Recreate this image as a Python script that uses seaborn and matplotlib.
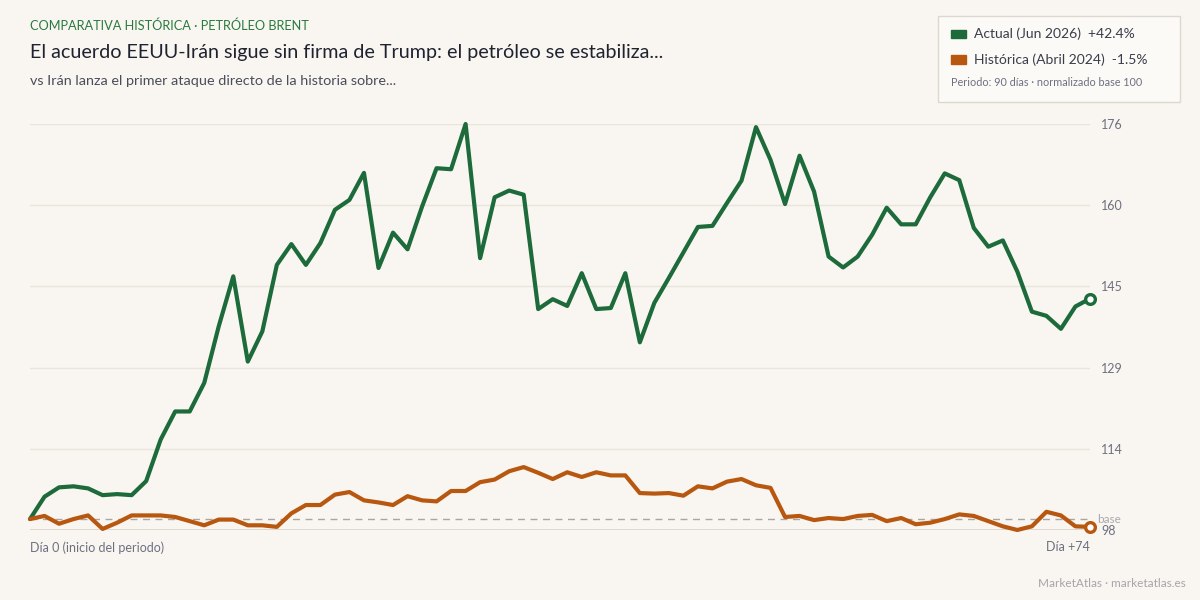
import numpy as np
import pandas as pd
import seaborn as sns
import matplotlib.pyplot as plt

# normalised price paths, base 100 (day 0 .. day 73)
actual = [100.0, 104.3, 106.1, 106.3, 105.9, 104.6, 104.8, 104.6, 107.3, 115.3,
          120.7, 120.7, 126.2, 137.1, 146.7, 130.3, 136.1, 148.9, 152.9, 148.9,
          153.1, 159.5, 161.4, 166.6, 148.3, 155.1, 151.9, 160.1, 167.5, 167.3,
          176.0, 150.2, 161.9, 163.2, 162.4, 140.4, 142.3, 141.0, 147.3, 140.4,
          140.6, 147.3, 134.0, 141.6, 146.4, 151.3, 156.2, 156.4, 160.8, 165.1,
          175.4, 169.1, 160.6, 169.9, 163.0, 150.5, 148.4, 150.5, 154.7, 159.9,
          156.7, 156.7, 161.9, 166.5, 165.2, 156.0, 152.4, 153.6, 147.6, 139.9,
          139.1, 136.6, 140.9, 142.4]
historica = [100.0, 100.6, 99.1, 100.0, 100.7, 98.1, 99.3, 100.7, 100.7, 100.7,
             100.4, 99.6, 98.8, 99.9, 99.9, 98.8, 98.8, 98.5, 101.1, 102.7,
             102.7, 104.7, 105.2, 103.6, 103.2, 102.7, 104.4, 103.6, 103.4, 105.4,
             105.4, 107.1, 107.6, 109.2, 110.0, 108.9, 107.7, 109.0, 108.1, 109.0,
             108.4, 108.4, 105.0, 104.9, 105.0, 104.5, 106.3, 105.9, 107.2, 107.7,
             106.5, 106.0, 100.4, 100.6, 99.8, 100.2, 100.0, 100.6, 100.8, 99.6,
             100.2, 99.0, 99.3, 100.0, 100.9, 100.6, 99.6, 98.6, 97.9, 98.6,
             101.4, 100.7, 98.6, 98.5]
series_names = ["Actual (Jun 2026)", "Histórica (Abril 2024)"]
series_changes = ["+42.4%", "-1.5%"]

bg = "#f9f6f1"
green = "#1d6a3b"
orange = "#b8570f"
palette = {series_names[0]: green, series_names[1]: orange}

days = np.arange(len(actual))
df = pd.DataFrame({
    "dia": np.concatenate([days, days]),
    "valor": actual + historica,
    "serie": [series_names[0]] * len(actual) + [series_names[1]] * len(historica),
})

sns.set_theme(style="white")
plt.rcParams["font.family"] = ["Lato", "DejaVu Sans"]

fig = plt.figure(figsize=(12, 6), dpi=100, facecolor=bg)
ax = fig.add_axes([0.025, 0.1167, 0.8833, 0.6766], facecolor=bg)

sns.lineplot(data=df, x="dia", y="valor", hue="serie", palette=palette,
             linewidth=3.0, legend=False, ax=ax, zorder=3)
for line in ax.get_lines():
    line.set_clip_on(False)

# end markers
for vals, col in [(actual, green), (historica, orange)]:
    ax.plot(days[-1], vals[-1], "o", ms=7, mfc="white", mec=col, mew=2.4,
            zorder=5, clip_on=False)

ymin = min(min(actual), min(historica))
ymax = max(max(actual), max(historica))
ax.set_xlim(0, days[-1])
ax.set_ylim(ymin, ymax)
yt = np.linspace(ymin, ymax, 6)
for v in yt[1:]:
    ax.axhline(v, color="#e9e4dc", lw=1, zorder=1)
ax.axhline(ymin, color="#d9d3c8", lw=1.2, zorder=1)
ax.axhline(100, color="#a8a6a4", lw=1, ls=(0, (5, 4)), zorder=2)

ax.yaxis.tick_right()
ax.set_yticks(yt)
ax.set_yticklabels([f"{v:.0f}" for v in yt])
ax.tick_params(axis="y", length=0, pad=8, labelsize=9, labelcolor="#6e7080")
ax.set_xticks([])
ax.set_xlabel("")
ax.set_ylabel("")
for s in ax.spines.values():
    s.set_visible(False)

ax.text(1.007, 100, "base", transform=ax.get_yaxis_transform(), ha="left", va="center",
        fontsize=8.5, color="#a9a9b0")
ax.text(0, -0.043, "Día 0 (inicio del periodo)", transform=ax.transAxes, ha="left",
        va="center", fontsize=9, color="#6e7080")
ax.text(1, -0.043, f"Día +{len(actual)}", transform=ax.transAxes, ha="right",
        va="center", fontsize=9, color="#6e7080")

# headline
fig.text(0.025, 0.957, "COMPARATIVA HISTÓRICA · PETRÓLEO BRENT", fontsize=9.2,
         color="#2a7a3f", va="center")
fig.text(0.025, 0.913, "El acuerdo EEUU-Irán sigue sin firma de Trump: el petróleo se estabiliza...",
         fontsize=14.2, color="#1f2330", va="center")
fig.text(0.025, 0.865, "vs Irán lanza el primer ataque directo de la historia sobre...",
         fontsize=10.4, color="#4a4d5a", va="center")
fig.text(0.988, 0.028, "MarketAtlas · marketatlas.es", fontsize=8.5, color="#a5a5ab",
         ha="right", va="center")

# legend box
box = plt.Rectangle((0.7817, 0.83), 0.2017, 0.143, transform=fig.transFigure,
                    facecolor="#fbfaf7", edgecolor="#ddd8cf", lw=1)
fig.patches.append(box)
for i, (name, chg) in enumerate(zip(series_names, series_changes)):
    yy = 0.943 - i * 0.042
    fig.patches.append(plt.Rectangle((0.7925, yy - 0.007), 0.0125, 0.014,
                                     transform=fig.transFigure, color=palette[name]))
    fig.text(0.8117, yy, f"{name}  {chg}", fontsize=10, color="#3a3d4a", va="center")
fig.text(0.7925, 0.863, "Periodo: 90 días · normalizado base 100", fontsize=7.8,
         color="#6e7080", va="center")

fig.savefig("out.png", dpi=100, facecolor=bg)
